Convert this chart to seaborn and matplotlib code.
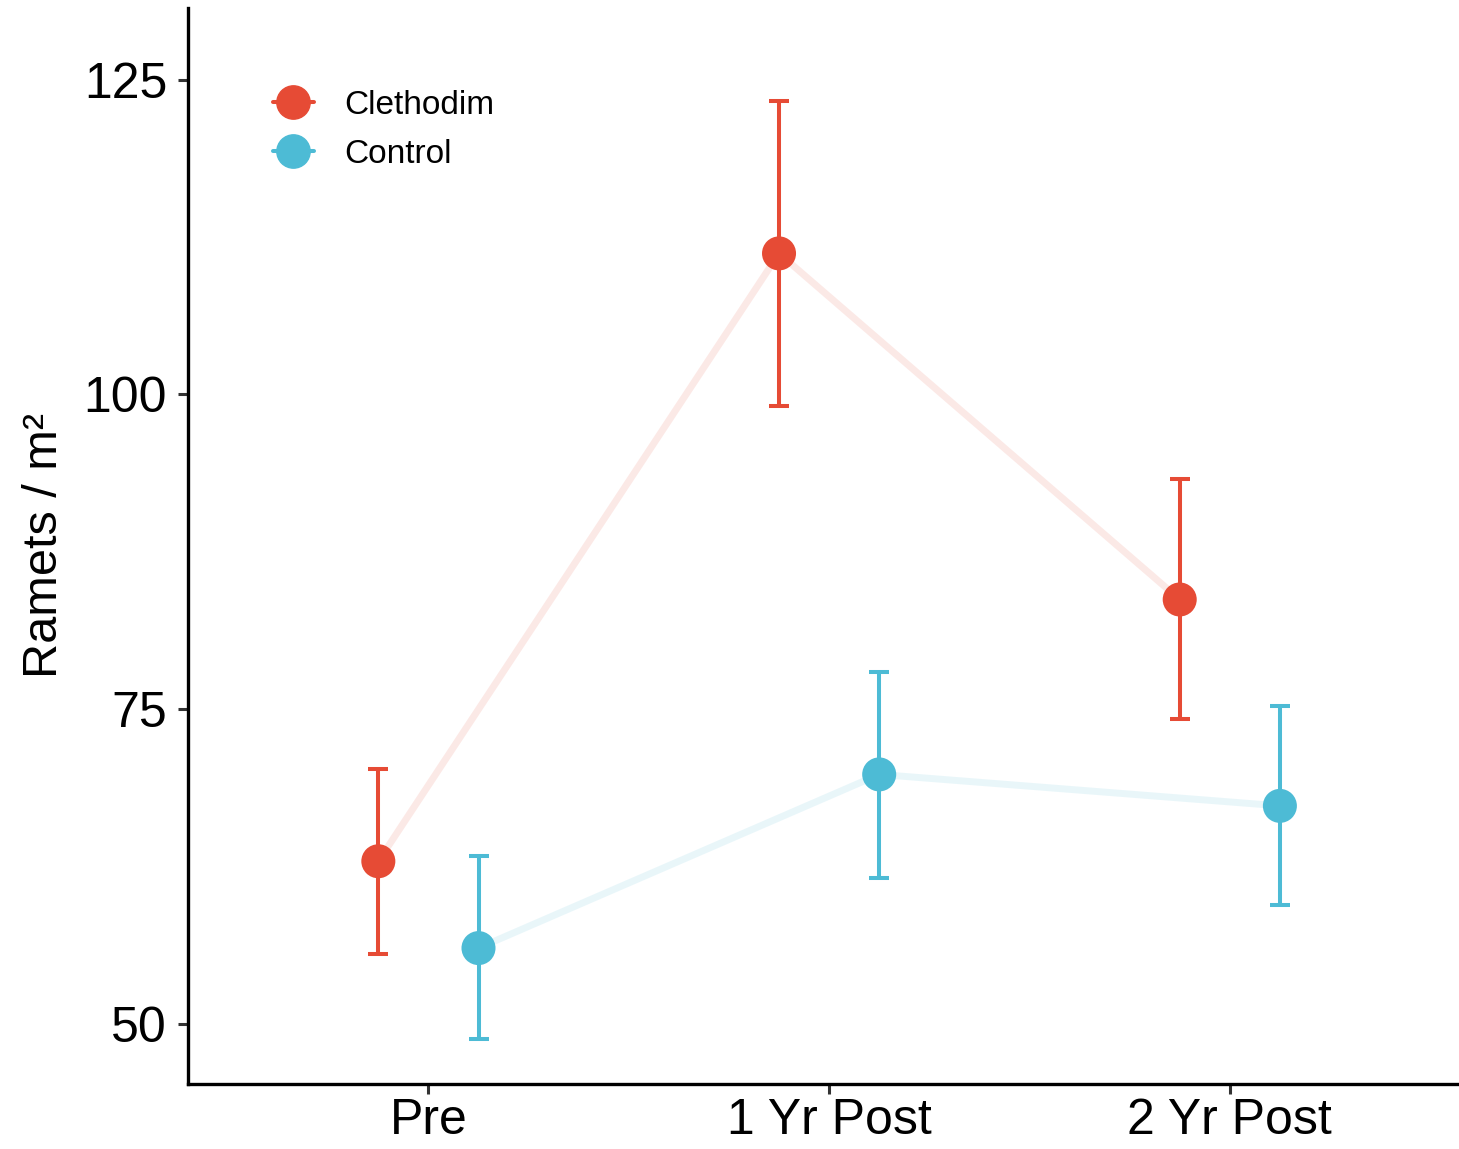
import matplotlib
matplotlib.use("Agg")
import matplotlib.pyplot as plt
from matplotlib.lines import Line2D
import seaborn as sns
import pandas as pd
import numpy as np

# ---- data ----
periods = ["Pre", "1 Yr Post", "2 Yr Post"]
treatments = ["Clethodim", "Control"]
clethodim_mean = [62.9, 111.2, 83.7]
clethodim_low = [55.5, 99.1, 74.2]
clethodim_high = [70.2, 123.3, 93.3]
control_mean = [56.0, 69.8, 67.3]
control_low = [48.8, 61.6, 59.4]
control_high = [63.3, 77.9, 75.2]

colors = {"Clethodim": "#E64B35", "Control": "#4DBBD5"}
dodge = {"Clethodim": -0.125, "Control": 0.125}

rows = []
for t, m, lo, hi in [("Clethodim", clethodim_mean, clethodim_low, clethodim_high),
                     ("Control", control_mean, control_low, control_high)]:
    for i, p in enumerate(periods):
        rows.append(dict(period=p, treatment=t, mean=m[i], low=lo[i], high=hi[i],
                         x=i + dodge[t]))
df = pd.DataFrame(rows)

sns.set_theme(style="ticks")
plt.rcParams["font.family"] = ["Liberation Sans", "DejaVu Sans"]

fig = plt.figure(figsize=(14.59, 11.49), dpi=100)
ax = fig.add_axes([188 / 1459, 1 - 1084 / 1149, 1 - 188 / 1459, (1084 - 8) / 1149])

# faint connecting lines
sns.lineplot(data=df, x="x", y="mean", hue="treatment", palette=colors,
             linewidth=5, alpha=0.12, ax=ax, legend=False, sort=False)

# error bars
for t in treatments:
    sub = df[df.treatment == t]
    ax.errorbar(sub["x"], sub["mean"],
                yerr=[sub["mean"] - sub["low"], sub["high"] - sub["mean"]],
                fmt="none", ecolor=colors[t], elinewidth=2.9, capsize=7.2,
                capthick=2.9, zorder=3)

# points
sns.scatterplot(data=df, x="x", y="mean", hue="treatment", palette=colors,
                s=600, linewidth=0, ax=ax, legend=False, zorder=4)

ax.set_xlim(-0.6, 2.572)
ax.set_ylim(45.2, 130.7)
ax.set_xticks(range(len(periods)))
ax.set_xticklabels(periods)
ax.set_yticks([50, 75, 100, 125])
ax.set_xlabel("")
ax.set_ylabel("Ramets / m²", fontsize=35, color="black", labelpad=12)
ax.tick_params(axis="both", labelsize=36, length=7, width=2.2, color="#333333",
               labelcolor="black")
ax.tick_params(axis="x", pad=3)
ax.tick_params(axis="y", pad=8)
for s in ["top", "right"]:
    ax.spines[s].set_visible(False)
for s in ["left", "bottom"]:
    ax.spines[s].set_linewidth(2.4)
    ax.spines[s].set_color("black")

handles = [Line2D([0], [0], color=colors[t], marker="o", markersize=24,
                  linewidth=2.9, label=t) for t in treatments]
leg = ax.legend(handles=handles, loc="upper left", bbox_to_anchor=(0.043, 0.952),
                frameon=False, fontsize=24, handlelength=1.25, handletextpad=0.9,
                labelspacing=0.55)
for txt in leg.get_texts():
    txt.set_color("black")

fig.savefig("out.png", dpi=100)
